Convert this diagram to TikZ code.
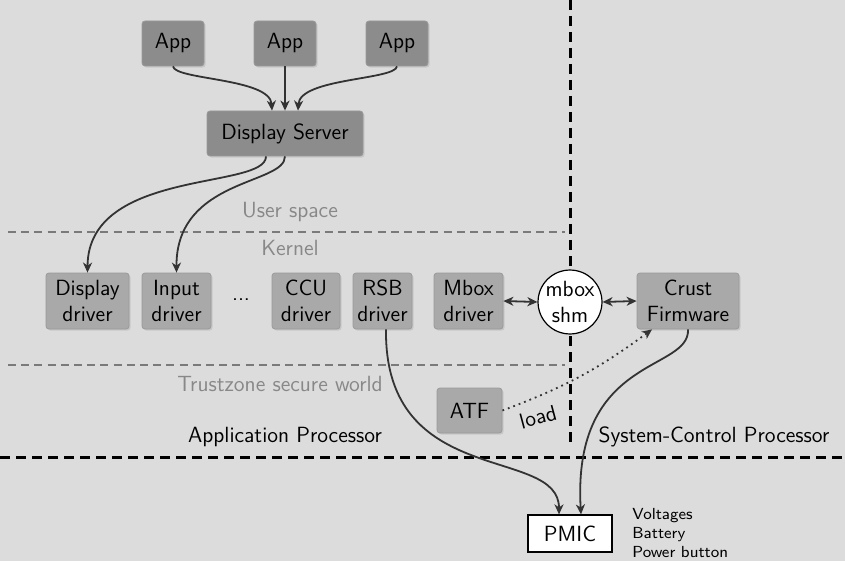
\documentclass[tikz,border=0pt]{standalone}
\usetikzlibrary{arrows.meta,shadows}
\definecolor{bg}{HTML}{DCDCDC}
\definecolor{boxdark}{HTML}{8C8C8C}
\definecolor{boxlight}{HTML}{A9A9A9}
\definecolor{boxedge}{HTML}{9A9A9A}
\definecolor{linec}{HTML}{333333}
\definecolor{labelc}{HTML}{888888}
\begin{document}
\begin{tikzpicture}[x=0.5pt,y=-0.5pt,font=\sffamily\fontsize{11}{13}\selectfont,
  box/.style={draw=boxedge,rounded corners=1.5pt,inner sep=0pt,align=center,
    minimum height=28pt,drop shadow={opacity=0.22,shadow xshift=0.8pt,shadow yshift=-0.8pt}},
  darkbox/.style={box,fill=boxdark,minimum height=22.5pt},
  lightbox/.style={box,fill=boxlight},
  arr/.style={draw=linec,line width=0.9pt,-{Stealth[length=5pt,width=4.5pt,inset=1.5pt]}},
  darr/.style={draw=linec,line width=0.9pt,{Stealth[length=5pt,width=4.5pt,inset=1.5pt]}-{Stealth[length=5pt,width=4.5pt,inset=1.5pt]}},
  thin dash/.style={draw=labelc!90!black,line width=0.6pt,dash pattern=on 4pt off 2.6pt},
  thick dash/.style={draw=black,line width=1.5pt,dash pattern=on 5pt off 3pt},
  layer/.style={text=labelc}]
\fill[bg] (0,0) rectangle (845,561);
\useasboundingbox (0,0) rectangle (845,561);
% separators
\draw[thin dash] (8,232) -- (565,232);
\draw[thin dash] (8,365) -- (565,365);
\draw[thick dash] (570,0) -- (570,445);
\draw[thick dash] (0,457) -- (845,457);
% layer labels
\node[layer] (us) at (290,212) {User space};
\node[layer] (kn) at (290,248) {Kernel};
\node[layer] (tz) at (280,384) {Trustzone secure world};
\node (ap) at (285,437) {Application Processor};
\node (scp) at (714,437) {System-Control Processor};
% nodes
\node[darkbox,minimum width=31pt] (app1) at (173,43.5) {App};
\node[darkbox,minimum width=31pt] (app2) at (285,43.5) {App};
\node[darkbox,minimum width=31pt] (app3) at (397,43.5) {App};
\node[darkbox,minimum width=78pt] (ds) at (285,133.5) {Display Server};
\node[lightbox,minimum width=41.5pt] (dd) at (87.5,301) {Display\\driver};
\node[lightbox,minimum width=34.5pt] (id) at (176.5,301) {Input\\driver};
\node (dots) at (241,300) {...};
\node[lightbox,minimum width=34pt] (ccu) at (306,301) {CCU\\driver};
\node[lightbox,minimum width=29.5pt] (rsb) at (382.5,301) {RSB\\driver};
\node[lightbox,minimum width=34.5pt] (mbox) at (468.5,301) {Mbox\\driver};
\node[circle,draw=black,fill=white,line width=0.6pt,inner sep=0pt,minimum size=31.5pt,align=center] (shm) at (570,302) {mbox\\shm};
\node[lightbox,minimum width=51pt] (crust) at (688,301) {Crust\\Firmware};
\node[lightbox,minimum width=32.5pt,minimum height=22.5pt] (atf) at (469.5,410.5) {ATF};
\node[draw=black,fill=white,line width=0.6pt,minimum width=42pt,minimum height=18.5pt,inner sep=0pt] (pmic) at (570,533.5) {PMIC};
\node[anchor=north west,align=left,font=\sffamily\fontsize{8}{9.5}\selectfont,inner sep=0pt] (info) at (632,508) {Voltages\\Battery\\Power button};
% connectors
\path[arr] (app1.south) .. controls (175,80) and (270,78) .. ([xshift=-6.5pt]ds.north);
\path[arr] (app2.south) -- (ds.north);
\path[arr] (app3.south) .. controls (395,80) and (300,78) .. ([xshift=6.5pt]ds.north);
\path[arr] ([xshift=-9.5pt]ds.south) .. controls (266,190) and (88,168) .. (dd.north);
\path[arr] (ds.south) .. controls (285,185) and (176,178) .. (id.north);
\path[arr] ([xshift=1.75pt]rsb.south) .. controls (384,490) and (559,445) .. ([xshift=-5.5pt]pmic.north);
\path[arr] (crust.south) .. controls (690,372) and (572,355) .. ([xshift=5.5pt]pmic.north);
\path[darr] (mbox.east) -- (shm.west);
\path[darr] (shm.east) -- (crust.west);
\draw[linec,line width=0.9pt,dotted,-{Stealth[length=5pt,width=4.5pt,inset=1.5pt]}] (atf.east) to[bend right=8] ([xshift=-18pt]crust.south);
\node[rotate=15] (load) at (538,417) {load};
\end{tikzpicture}
\end{document}
